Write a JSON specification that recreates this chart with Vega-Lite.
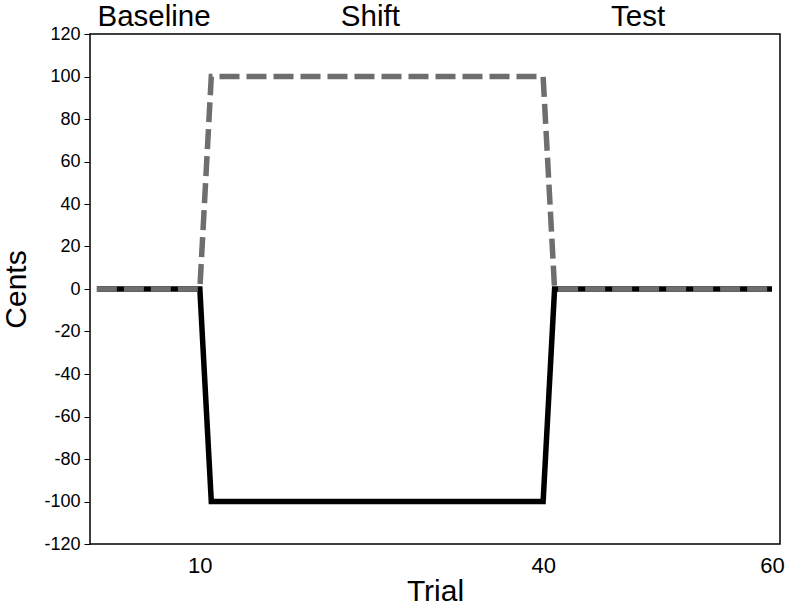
{
  "$schema": "https://vega.github.io/schema/vega-lite/v6.json",
  "width": 690,
  "height": 510,
  "autosize": "none",
  "padding": {"left": 90, "top": 34, "right": 13, "bottom": 64},
  "background": "white",
  "config": {
    "view": {"stroke": "#000", "strokeWidth": 1.5},
    "font": "Liberation Sans",
    "axis": {"grid": false, "domain": false, "labelColor": "#000", "titleColor": "#000", "titleFontWeight": "normal", "labelFont": "Liberation Sans", "titleFont": "Liberation Sans"}
  },
  "datasets": {
    "curves": [
      {"trial": 1, "cents": 0, "series": "response"},
      {"trial": 2, "cents": 0, "series": "response"},
      {"trial": 3, "cents": 0, "series": "response"},
      {"trial": 4, "cents": 0, "series": "response"},
      {"trial": 5, "cents": 0, "series": "response"},
      {"trial": 6, "cents": 0, "series": "response"},
      {"trial": 7, "cents": 0, "series": "response"},
      {"trial": 8, "cents": 0, "series": "response"},
      {"trial": 9, "cents": 0, "series": "response"},
      {"trial": 10, "cents": 0, "series": "response"},
      {"trial": 11, "cents": -100, "series": "response"},
      {"trial": 12, "cents": -100, "series": "response"},
      {"trial": 13, "cents": -100, "series": "response"},
      {"trial": 14, "cents": -100, "series": "response"},
      {"trial": 15, "cents": -100, "series": "response"},
      {"trial": 16, "cents": -100, "series": "response"},
      {"trial": 17, "cents": -100, "series": "response"},
      {"trial": 18, "cents": -100, "series": "response"},
      {"trial": 19, "cents": -100, "series": "response"},
      {"trial": 20, "cents": -100, "series": "response"},
      {"trial": 21, "cents": -100, "series": "response"},
      {"trial": 22, "cents": -100, "series": "response"},
      {"trial": 23, "cents": -100, "series": "response"},
      {"trial": 24, "cents": -100, "series": "response"},
      {"trial": 25, "cents": -100, "series": "response"},
      {"trial": 26, "cents": -100, "series": "response"},
      {"trial": 27, "cents": -100, "series": "response"},
      {"trial": 28, "cents": -100, "series": "response"},
      {"trial": 29, "cents": -100, "series": "response"},
      {"trial": 30, "cents": -100, "series": "response"},
      {"trial": 31, "cents": -100, "series": "response"},
      {"trial": 32, "cents": -100, "series": "response"},
      {"trial": 33, "cents": -100, "series": "response"},
      {"trial": 34, "cents": -100, "series": "response"},
      {"trial": 35, "cents": -100, "series": "response"},
      {"trial": 36, "cents": -100, "series": "response"},
      {"trial": 37, "cents": -100, "series": "response"},
      {"trial": 38, "cents": -100, "series": "response"},
      {"trial": 39, "cents": -100, "series": "response"},
      {"trial": 40, "cents": -100, "series": "response"},
      {"trial": 41, "cents": 0, "series": "response"},
      {"trial": 42, "cents": 0, "series": "response"},
      {"trial": 43, "cents": 0, "series": "response"},
      {"trial": 44, "cents": 0, "series": "response"},
      {"trial": 45, "cents": 0, "series": "response"},
      {"trial": 46, "cents": 0, "series": "response"},
      {"trial": 47, "cents": 0, "series": "response"},
      {"trial": 48, "cents": 0, "series": "response"},
      {"trial": 49, "cents": 0, "series": "response"},
      {"trial": 50, "cents": 0, "series": "response"},
      {"trial": 51, "cents": 0, "series": "response"},
      {"trial": 52, "cents": 0, "series": "response"},
      {"trial": 53, "cents": 0, "series": "response"},
      {"trial": 54, "cents": 0, "series": "response"},
      {"trial": 55, "cents": 0, "series": "response"},
      {"trial": 56, "cents": 0, "series": "response"},
      {"trial": 57, "cents": 0, "series": "response"},
      {"trial": 58, "cents": 0, "series": "response"},
      {"trial": 59, "cents": 0, "series": "response"},
      {"trial": 60, "cents": 0, "series": "response"},
      {"trial": 1, "cents": 0, "series": "shift"},
      {"trial": 2, "cents": 0, "series": "shift"},
      {"trial": 3, "cents": 0, "series": "shift"},
      {"trial": 4, "cents": 0, "series": "shift"},
      {"trial": 5, "cents": 0, "series": "shift"},
      {"trial": 6, "cents": 0, "series": "shift"},
      {"trial": 7, "cents": 0, "series": "shift"},
      {"trial": 8, "cents": 0, "series": "shift"},
      {"trial": 9, "cents": 0, "series": "shift"},
      {"trial": 10, "cents": 0, "series": "shift"},
      {"trial": 11, "cents": 100, "series": "shift"},
      {"trial": 12, "cents": 100, "series": "shift"},
      {"trial": 13, "cents": 100, "series": "shift"},
      {"trial": 14, "cents": 100, "series": "shift"},
      {"trial": 15, "cents": 100, "series": "shift"},
      {"trial": 16, "cents": 100, "series": "shift"},
      {"trial": 17, "cents": 100, "series": "shift"},
      {"trial": 18, "cents": 100, "series": "shift"},
      {"trial": 19, "cents": 100, "series": "shift"},
      {"trial": 20, "cents": 100, "series": "shift"},
      {"trial": 21, "cents": 100, "series": "shift"},
      {"trial": 22, "cents": 100, "series": "shift"},
      {"trial": 23, "cents": 100, "series": "shift"},
      {"trial": 24, "cents": 100, "series": "shift"},
      {"trial": 25, "cents": 100, "series": "shift"},
      {"trial": 26, "cents": 100, "series": "shift"},
      {"trial": 27, "cents": 100, "series": "shift"},
      {"trial": 28, "cents": 100, "series": "shift"},
      {"trial": 29, "cents": 100, "series": "shift"},
      {"trial": 30, "cents": 100, "series": "shift"},
      {"trial": 31, "cents": 100, "series": "shift"},
      {"trial": 32, "cents": 100, "series": "shift"},
      {"trial": 33, "cents": 100, "series": "shift"},
      {"trial": 34, "cents": 100, "series": "shift"},
      {"trial": 35, "cents": 100, "series": "shift"},
      {"trial": 36, "cents": 100, "series": "shift"},
      {"trial": 37, "cents": 100, "series": "shift"},
      {"trial": 38, "cents": 100, "series": "shift"},
      {"trial": 39, "cents": 100, "series": "shift"},
      {"trial": 40, "cents": 100, "series": "shift"},
      {"trial": 41, "cents": 0, "series": "shift"},
      {"trial": 42, "cents": 0, "series": "shift"},
      {"trial": 43, "cents": 0, "series": "shift"},
      {"trial": 44, "cents": 0, "series": "shift"},
      {"trial": 45, "cents": 0, "series": "shift"},
      {"trial": 46, "cents": 0, "series": "shift"},
      {"trial": 47, "cents": 0, "series": "shift"},
      {"trial": 48, "cents": 0, "series": "shift"},
      {"trial": 49, "cents": 0, "series": "shift"},
      {"trial": 50, "cents": 0, "series": "shift"},
      {"trial": 51, "cents": 0, "series": "shift"},
      {"trial": 52, "cents": 0, "series": "shift"},
      {"trial": 53, "cents": 0, "series": "shift"},
      {"trial": 54, "cents": 0, "series": "shift"},
      {"trial": 55, "cents": 0, "series": "shift"},
      {"trial": 56, "cents": 0, "series": "shift"},
      {"trial": 57, "cents": 0, "series": "shift"},
      {"trial": 58, "cents": 0, "series": "shift"},
      {"trial": 59, "cents": 0, "series": "shift"},
      {"trial": 60, "cents": 0, "series": "shift"}
    ],
    "phases": [
      {"phase": "Baseline", "trial": 6.0, "cents": 128},
      {"phase": "Shift", "trial": 24.9, "cents": 128},
      {"phase": "Test", "trial": 48.3, "cents": 128}
    ]
  },
  "layer": [
    {
      "data": {"values": [{"zero": 0}]},
      "mark": {"type": "rule", "color": "#000", "strokeWidth": 1},
      "encoding": {
        "y": {"field": "zero", "type": "quantitative", "scale": {"domain": [-120, 120], "nice": false, "zero": false}}
      }
    },
    {
      "data": {"name": "curves"},
      "transform": [{"filter": "datum.series === 'response'"}],
      "mark": {"type": "line", "color": "#000", "strokeWidth": 5.5, "strokeJoin": "miter", "strokeCap": "butt"},
      "encoding": {
        "x": {"field": "trial", "type": "quantitative"},
        "y": {"field": "cents", "type": "quantitative"}
      }
    },
    {
      "data": {"name": "curves"},
      "transform": [{"filter": "datum.series === 'shift'"}],
      "mark": {"type": "line", "color": "#6e6e6e", "strokeWidth": 5.5, "strokeDash": [20, 7], "strokeJoin": "miter", "strokeCap": "butt"},
      "encoding": {
        "x": {"field": "trial", "type": "quantitative"},
        "y": {"field": "cents", "type": "quantitative"}
      }
    },
    {
      "data": {"name": "phases"},
      "mark": {"type": "text", "fontSize": 29.5, "font": "Liberation Sans", "color": "#000", "baseline": "middle", "align": "center"},
      "encoding": {
        "x": {"field": "trial", "type": "quantitative"},
        "y": {"field": "cents", "type": "quantitative"},
        "text": {"field": "phase"}
      }
    }
  ],
  "resolve": {"scale": {"x": "shared", "y": "shared"}},
  "encoding": {
    "x": {
      "field": "trial",
      "type": "quantitative",
      "title": "Trial",
      "scale": {"domain": [0.4, 60.7], "nice": false, "zero": false},
      "axis": {"values": [10, 40, 60], "ticks": false, "labelFontSize": 22, "labelPadding": 11, "titleFontSize": 30, "titlePadding": 0, "labelFlush": false}
    },
    "y": {
      "field": "cents",
      "type": "quantitative",
      "title": "Cents",
      "scale": {"domain": [-120, 120], "nice": false, "zero": false},
      "axis": {"values": [-120, -100, -80, -60, -40, -20, 0, 20, 40, 60, 80, 100, 120], "labelExpr": "toString(datum.value)", "tickSize": 6, "tickColor": "#000", "tickWidth": 1, "labelFontSize": 18, "labelPadding": 4, "titleFontSize": 30, "titlePadding": 12}
    }
  }
}
